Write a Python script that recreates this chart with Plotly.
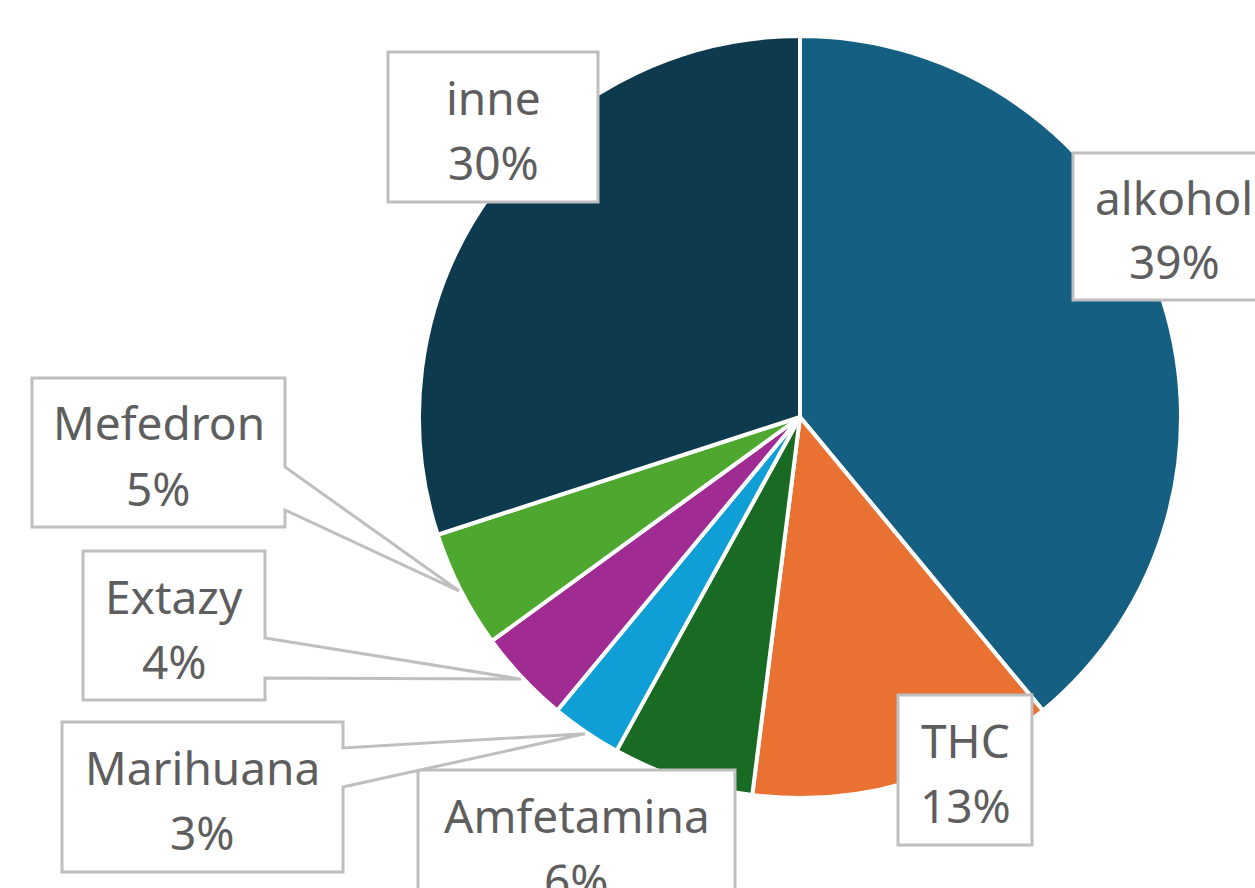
import math
import plotly.graph_objects as go

# ---- data ----
categories = ["alkohol", "THC", "Amfetamina", "Marihuana", "Extazy", "Mefedron", "inne"]
values = [39, 13, 6, 3, 4, 5, 30]
colors = ["#156082", "#E97132", "#196B24", "#0F9ED5", "#A02B93", "#4EA72E", "#0E3A4E"]

W, H = 1255, 888
CX, CY, R = 800, 417, 381  # pie geometry in pixels

# label boxes (pixel positions) and optional callout wedge attachment (y on right edge)
boxes = {
    "inne": (388, 598, 52, 202, None),
    "alkohol": (1073, 1275, 153, 300, None),
    "THC": (898, 1032, 695, 845, None),
    "Amfetamina": (418, 735, 770, 920, None),
    "Marihuana": (62, 343, 722, 872, (748, 787)),
    "Extazy": (83, 265, 551, 700, (638, 678)),
    "Mefedron": (32, 285, 378, 527, (467, 510)),
}

def px(x):
    return x / W

def py(y):
    return 1 - y / H

fig = go.Figure(go.Pie(
    labels=categories,
    values=values,
    sort=False,
    direction="clockwise",
    rotation=0,
    textinfo="none",
    hoverinfo="label+percent",
    marker=dict(colors=colors, line=dict(color="white", width=4)),
    domain=dict(x=[px(CX - R), px(CX + R)], y=[py(CY + R), py(CY - R)]),
    showlegend=False,
))

total = sum(values)
cum = 0
shapes = []
annotations = []
font = dict(family="Noto Sans, Open Sans, sans-serif", size=46, color="#5E5E5E")
for name, v in zip(categories, values):
    mid = 2 * math.pi * (cum + v / 2) / total
    cum += v
    x0, x1, y0, y1, wedge = boxes[name]
    if wedge:
        tx = CX + R * 1.005 * math.sin(mid)
        ty = CY - R * 1.005 * math.cos(mid)
        wa, wb = wedge
        pts = [(x0, y0), (x1, y0), (x1, wa), (tx, ty), (x1, wb), (x1, y1), (x0, y1)]
    else:
        pts = [(x0, y0), (x1, y0), (x1, y1), (x0, y1)]
    path = "M " + " L ".join(f"{px(a):.5f},{py(b):.5f}" for a, b in pts) + " Z"
    shapes.append(dict(type="path", xref="paper", yref="paper", path=path,
                       fillcolor="white", line=dict(color="#BFBFBF", width=3), layer="above"))
    cxb = (x0 + x1) / 2
    cyb = (y0 + y1) / 2
    pct = f"{round(100 * v / total)}%"
    annotations.append(dict(x=px(cxb), y=py(cyb - 30), xref="paper", yref="paper",
                            text=name, showarrow=False, font=font,
                            xanchor="center", yanchor="middle"))
    annotations.append(dict(x=px(cxb), y=py(cyb + 35), xref="paper", yref="paper",
                            text=pct, showarrow=False, font=font,
                            xanchor="center", yanchor="middle"))

fig.update_layout(
    width=W, height=H,
    margin=dict(l=0, r=0, t=0, b=0),
    paper_bgcolor="white",
    plot_bgcolor="white",
    shapes=shapes,
    annotations=annotations,
)

fig.write_html("out.html", config={"displayModeBar": False},
               post_script="document.body.style.margin='0';document.body.style.overflow='hidden';")
